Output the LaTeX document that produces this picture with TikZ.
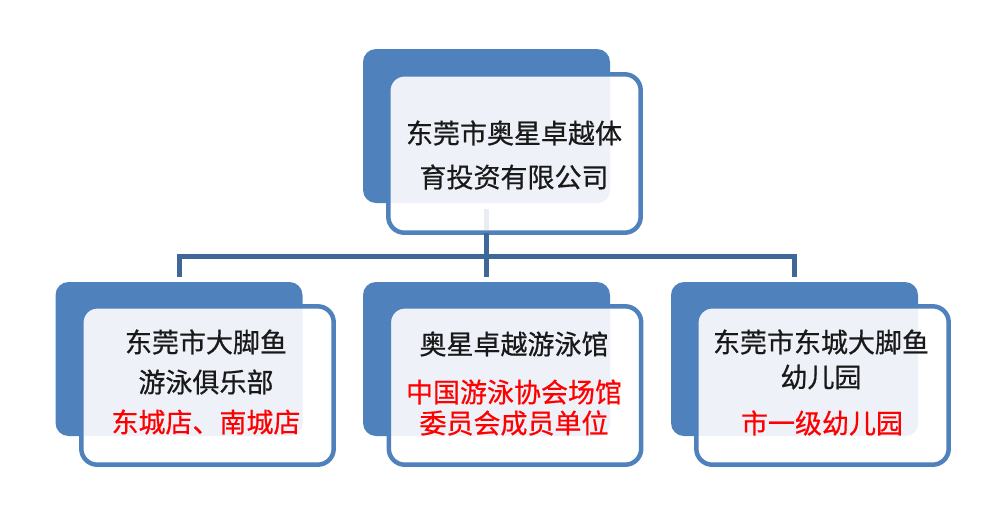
\documentclass[tikz,border=0pt]{standalone}
\usepackage{fontspec}
\setmainfont{Noto Sans CJK SC}[RawFeature={embolden=0.6}]
\definecolor{boxblue}{HTML}{4F81BD}
\definecolor{connblue}{HTML}{40679A}
\definecolor{lightfill}{HTML}{EEF2F8}
\definecolor{stubgrey}{HTML}{E9EDF2}
\definecolor{redtext}{HTML}{FF0000}
\tikzset{
  backbox/.style={rectangle, fill=boxblue, rounded corners=13pt, inner sep=0pt, minimum width=247pt, minimum height=154pt},
  frontbox/.style={rectangle, fill=white, rounded corners=16pt, inner sep=0pt, minimum width=252pt, minimum height=158pt},
  frameline/.style={draw=boxblue, line width=4.5pt, rounded corners=16pt},
  lightpart/.style={fill=lightfill, rounded corners=13pt},
  conn/.style={draw=connblue, line width=5pt},
  stubline/.style={draw=stubgrey, line width=5pt},
  txt/.style={inner sep=0pt, font=\fontsize{27pt}{32pt}\selectfont, text=black!90},
  redtxt/.style={inner sep=0pt, font=\fontsize{27pt}{32pt}\selectfont, text=redtext}
}
\newcommand{\layeredbox}[4]{%
  % #1 back name, #2 back centre, #3 front name, #4 front centre
  \node[backbox] (#1) at #2 {};
  \node[frontbox] (#3) at #4 {};
  \begin{scope}
    \clip[rounded corners=16pt] (#3.south west) rectangle (#3.north east);
    \fill[lightpart] (#1.south west) rectangle (#1.north east);
  \end{scope}
  \draw[frameline] (#3.south west) rectangle (#3.north east);
}
\begin{document}
\begin{tikzpicture}[x=1pt,y=-1pt]
\useasboundingbox (0,0) rectangle (1000,520);

% top box
\layeredbox{tb}{(486.5,126)}{tf}{(514.5,153.5)}
% children
\layeredbox{lb}{(179,359)}{lf}{(207.5,385.5)}
\layeredbox{mb}{(486.5,359)}{mf}{(515,385.5)}
\layeredbox{rb}{(794.5,359)}{rf}{(822.5,385.5)}

% connectors
\coordinate (bus) at (486.5,256.5);
\draw[stubline] ([yshift=-6pt]tb.south) -- ([yshift=2.25pt]tb.south |- tf.south);
\draw[conn] (tb.south |- tf.south) -- ([yshift=5pt]mb.north);
\draw[conn] ([yshift=5pt]lb.north) |- (bus) -| ([yshift=5pt]rb.north);

% texts
\node[txt] (t1) at (514,133) {东莞市奥星卓越体};
\node[txt] (t2) at (514,177) {育投资有限公司};

\node[txt] (l1) at (206,342) {东莞市大脚鱼};
\node[txt] (l2) at (206,382) {游泳俱乐部};
\node[redtxt] (l3) at (206,422) {东城店、南城店};

\node[txt] (m1) at (514,344) {奥星卓越游泳馆};
\node[redtxt] (m2) at (514,392) {中国游泳协会场馆};
\node[redtxt] (m3) at (514,423) {委员会成员单位};

\node[txt] (r1) at (821,342) {东莞市东城大脚鱼};
\node[txt] (r2) at (821,377) {幼儿园};
\node[redtxt] (r3) at (822,423) {市一级幼儿园};
\end{tikzpicture}
\end{document}
